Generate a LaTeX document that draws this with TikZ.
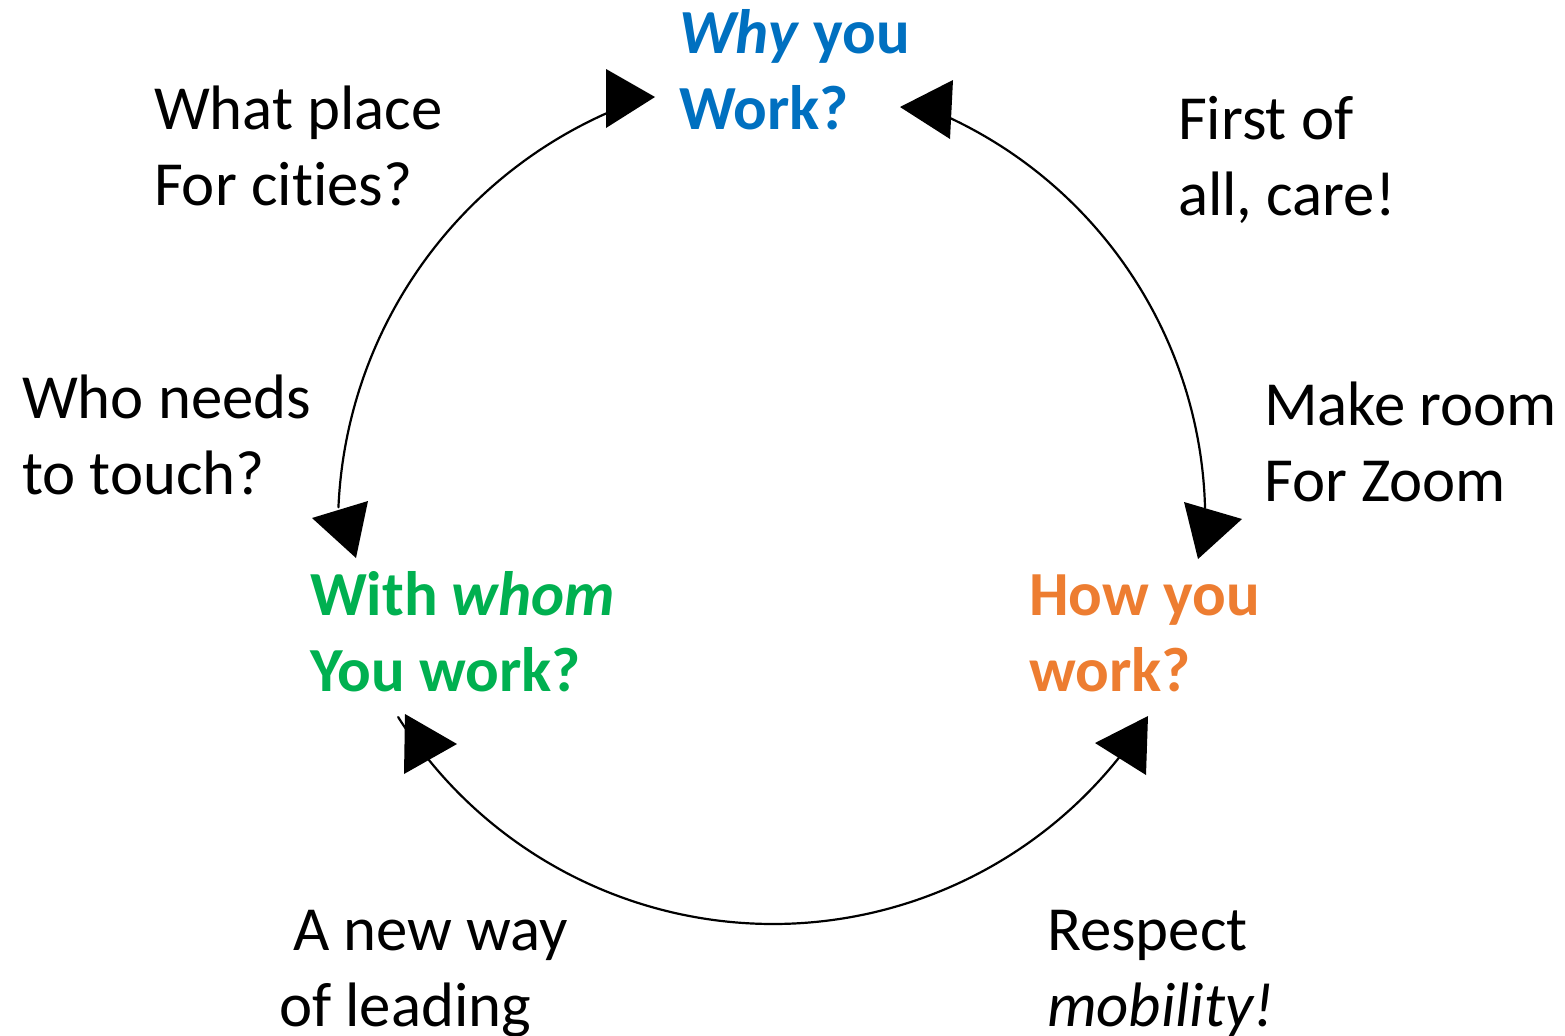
\documentclass[tikz,border=0pt]{standalone}
\usepackage{fontspec}
\setmainfont{Carlito}[Ligatures=NoCommon]
\definecolor{cblue}{HTML}{0070C0}
\definecolor{cgreen}{HTML}{00B050}
\definecolor{corange}{HTML}{ED7D31}
\newcommand{\twolines}[2]{\begin{tabular}[t]{@{}l@{}}#1\\#2\end{tabular}}
\begin{document}
\begin{tikzpicture}[x=1bp,y=-1bp,
  lbl/.style={anchor=base west, inner sep=0pt, outer sep=0pt, font=\fontsize{63}{77}\selectfont},
  keylbl/.style={lbl, font=\fontsize{63}{77}\selectfont\bfseries},
  link/.style={line width=2.2bp, line cap=round},
  head/.style={fill=black}]
\useasboundingbox (0,0) rectangle (1565,1035);

% key questions
\node[keylbl, text=cblue] (why) at (679,53) {\twolines{\textit{Why} you}{Work?}};
\node[keylbl, text=cgreen] (whom) at (310,615) {\twolines{With \textit{whom}}{You work?}};
\node[keylbl, text=corange] (how) at (1029,615) {\twolines{How you}{work?}};

% side labels
\node[lbl] (place) at (154,129) {\twolines{What place}{For cities?}};
\node[lbl] (care) at (1178,139) {\twolines{First of}{all, care!}};
\node[lbl] (touch) at (22,418) {\twolines{Who needs}{to touch?}};
\node[lbl] (zoom) at (1264,425) {\twolines{Make room}{For Zoom}};
\node[lbl] (lead) at (279,950) {\twolines{\ A new way}{of leading}};
\node[lbl] (mob) at (1047,950) {\twolines{Respect}{\textit{mobility!}}};

% arcs
\draw[link] ([shift={(182.5:453)}]791,527) arc[start angle=182.5, end angle=246, radius=453];
\draw[link] ([shift={(-64.9:443.6)}]761.6,519.6) arc[start angle=-64.9, end angle=-1.5, radius=443.6];
\draw[link] ([shift={(38.5:443)}]773,481) arc[start angle=38.5, end angle=147.8, radius=443];

% arrowheads
\fill[head] (606,69) -- (606,128) -- (655,97) -- cycle;
\fill[head] (900,107) -- (953,80) -- (950,139) -- cycle;
\fill[head] (312,518) -- (368,501) -- (356,558) -- cycle;
\fill[head] (1184,502) -- (1242,519) -- (1198,559) -- cycle;
\fill[head] (405,714) -- (457,744) -- (404,774) -- cycle;
\fill[head] (1095,743) -- (1148,716) -- (1146,775) -- cycle;
\end{tikzpicture}
\end{document}
